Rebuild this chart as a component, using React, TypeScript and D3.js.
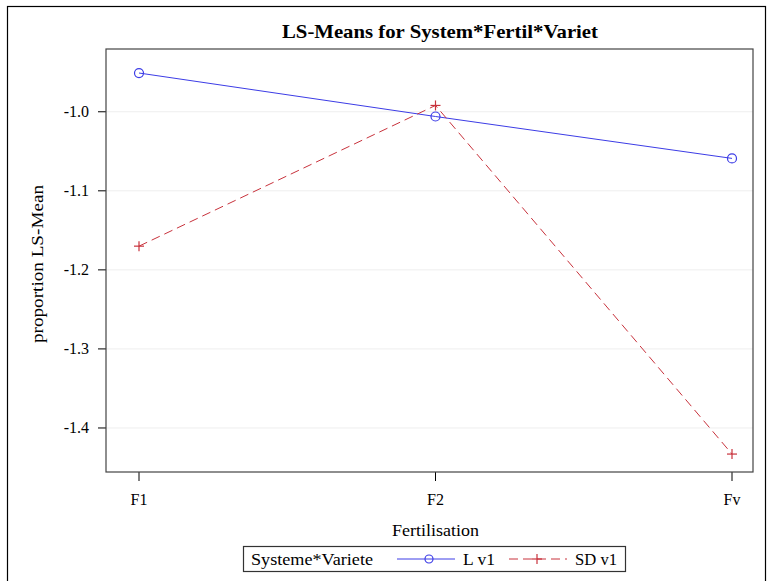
import React from "react";
import * as d3 from "d3";

const categories = ["F1", "F2", "Fv"];
const seriesNames = ["L v1", "SD v1"];
const lv1Values = [-0.951, -1.006, -1.059];
const sdv1Values = [-1.170, -0.992, -1.433];
const yTicks = [-1.0, -1.1, -1.2, -1.3, -1.4];

const W = 768, H = 581;
const plot = { left: 106, right: 753, top: 49, bottom: 472 };
const FONT = "'Liberation Serif', 'Times New Roman', 'DejaVu Serif', serif";
const BLUE = "#3c3ce6";
const RED = "#c8323c";
const ts = { fontFamily: FONT };

export default function App() {
  const y = d3.scaleLinear().domain([-1.4557, -0.9206]).range([plot.bottom, plot.top]);
  const x = d3.scalePoint<string>().domain(categories).range([139, 732]);
  const line = d3.line<[string, number]>().x(d => x(d[0])!).y(d => y(d[1]));
  const lData = categories.map((c, i) => [c, lv1Values[i]] as [string, number]);
  const sData = categories.map((c, i) => [c, sdv1Values[i]] as [string, number]);

  const plus = (cx: number, cy: number, k: string) => (
    <g key={k} stroke={RED} strokeWidth={1.2}>
      <line x1={cx - 5} x2={cx + 5} y1={cy} y2={cy} />
      <line x1={cx} x2={cx} y1={cy - 5} y2={cy + 5} />
    </g>
  );

  return (
    <svg width={W} height={H} style={{ position: "absolute", left: 0, top: 0, background: "#fff", fontFamily: FONT }}>
      <rect x={7.5} y={6.5} width={758} height={590} fill="#fff" stroke="#000" strokeWidth={1.2} />
      <text style={ts} x={440} y={38} textAnchor="middle" fontSize={19} fontWeight="bold" textLength={316} lengthAdjust="spacingAndGlyphs">LS-Means for System*Fertil*Variet</text>
      {yTicks.map(t => (
        <g key={t}>
          <line x1={plot.left} x2={plot.right} y1={y(t)} y2={y(t)} stroke="#eeeeee" strokeWidth={1} />
          <line x1={plot.left - 8} x2={plot.left} y1={y(t)} y2={y(t)} stroke="#000" />
          <text style={ts} x={89} y={y(t) + 5.5} textAnchor="end" fontSize={16}>{t.toFixed(1)}</text>
        </g>
      ))}
      {categories.map(c => (
        <g key={c}>
          <line x1={x(c)} x2={x(c)} y1={plot.bottom} y2={plot.bottom + 9} stroke="#000" />
          <text style={ts} x={x(c)} y={505} textAnchor="middle" fontSize={16}>{c}</text>
        </g>
      ))}
      <rect x={plot.left} y={plot.top} width={plot.right - plot.left} height={plot.bottom - plot.top} fill="none" stroke="#444" strokeWidth={1.2} />
      <path d={line(lData)!} fill="none" stroke={BLUE} strokeWidth={1} />
      <path d={line(sData)!} fill="none" stroke={RED} strokeWidth={1} strokeDasharray="9,5" />
      {lData.map(d => (
        <circle key={d[0]} cx={x(d[0])} cy={y(d[1])} r={4.5} fill="none" stroke={BLUE} strokeWidth={1.2} />
      ))}
      {sData.map(d => plus(x(d[0])!, y(d[1]), d[0]))}
      <text style={ts} transform={`translate(43,264) rotate(-90)`} textAnchor="middle" fontSize={17} textLength={158} lengthAdjust="spacingAndGlyphs">proportion LS-Mean</text>
      <text style={ts} x={435.5} y={536} textAnchor="middle" fontSize={17} textLength={87} lengthAdjust="spacingAndGlyphs">Fertilisation</text>
      <g>
        <rect x={243.5} y={546.5} width={382} height={25} fill="#fff" stroke="#333" strokeWidth={1.2} />
        <text style={ts} x={251} y={565} fontSize={17} textLength={122} lengthAdjust="spacingAndGlyphs">Systeme*Variete</text>
        <line x1={397} x2={455} y1={559} y2={559} stroke={BLUE} />
        <circle cx={429} cy={559} r={4} fill="none" stroke={BLUE} strokeWidth={1.2} />
        <text style={ts} x={463} y={565} fontSize={17} textLength={32} lengthAdjust="spacingAndGlyphs">{seriesNames[0]}</text>
        <line x1={509} x2={567} y1={559} y2={559} stroke={RED} strokeDasharray="9,5" />
        {plus(537, 559, "leg")}
        <text style={ts} x={575} y={565} fontSize={17} textLength={42} lengthAdjust="spacingAndGlyphs">{seriesNames[1]}</text>
      </g>
    </svg>
  );
}
